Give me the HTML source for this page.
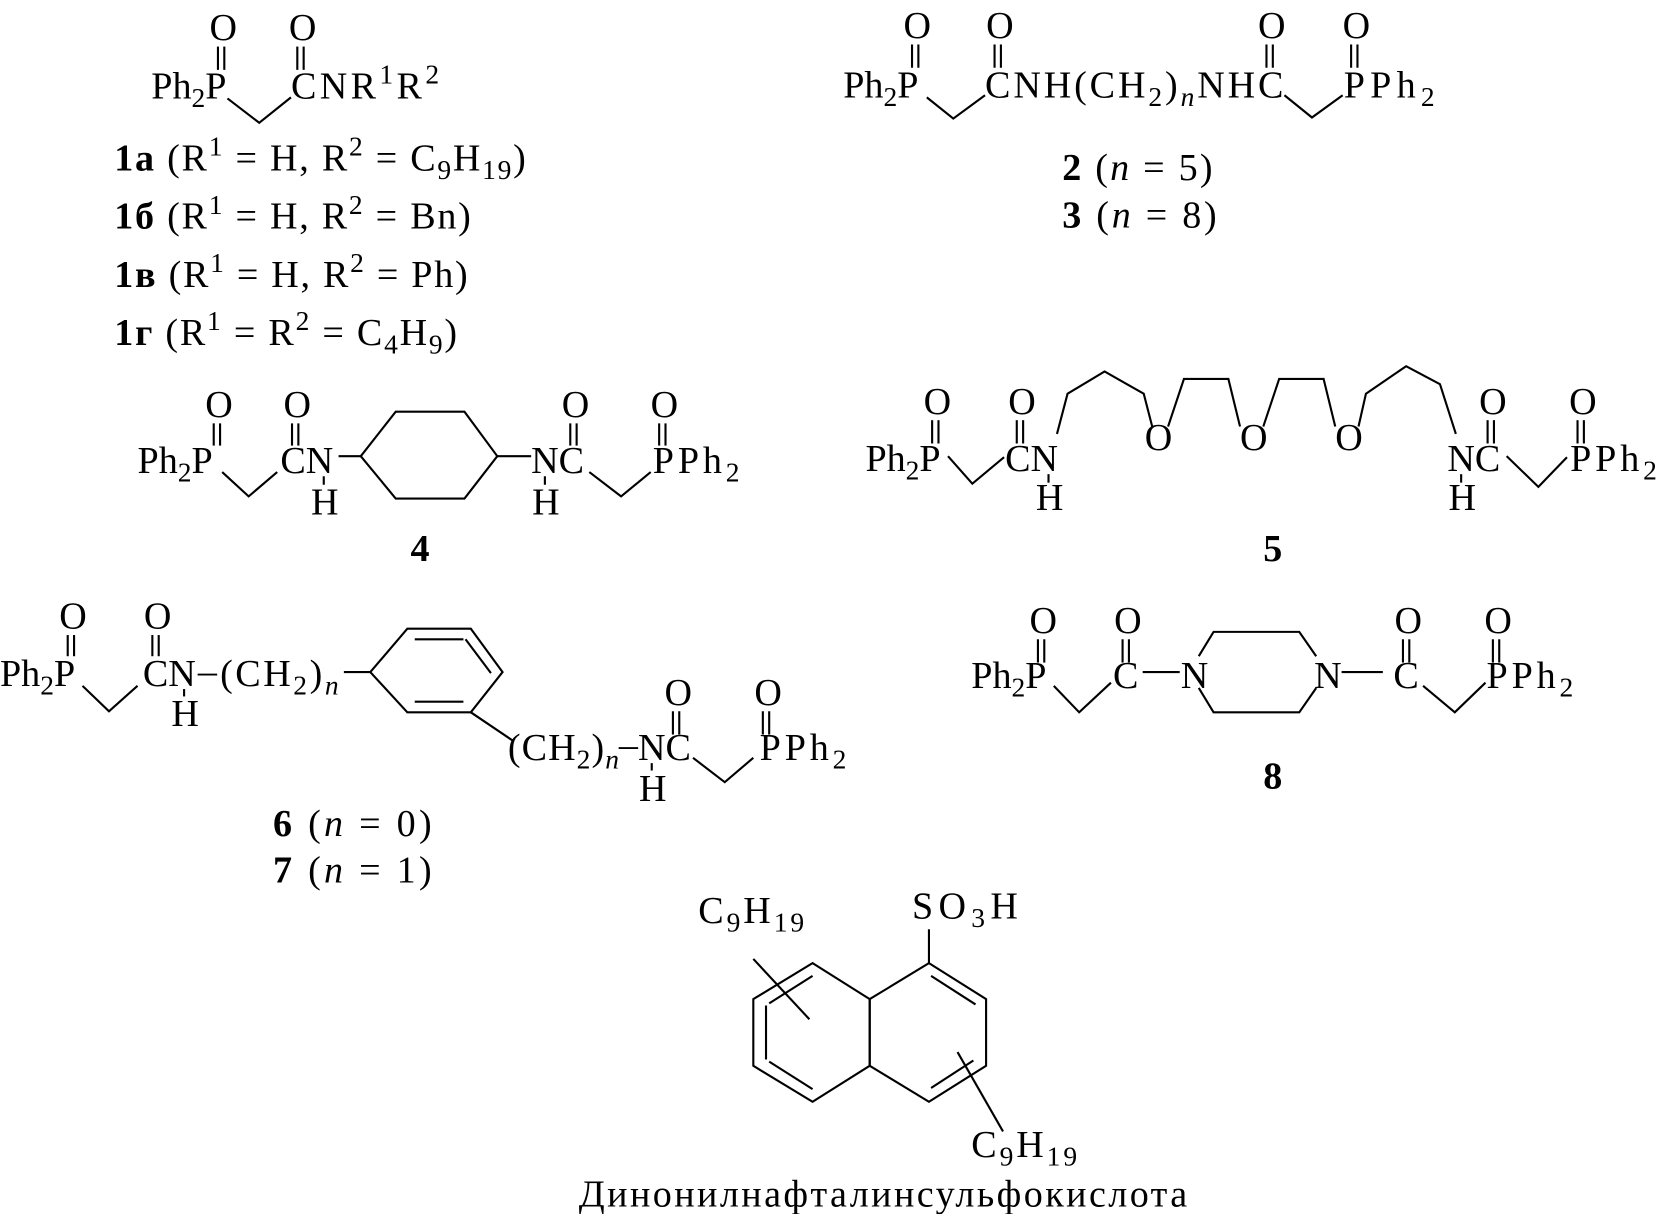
<!DOCTYPE html>
<html><head><meta charset="utf-8"><style>
html,body{margin:0;padding:0;background:#fff;}
svg{display:block;}
text{font-family:"Liberation Serif",serif;font-size:36px;fill:#000;}
.b{font-weight:bold;}
line,polyline,polygon{stroke:#000;stroke-width:2;fill:none;}
</style></head><body>
<svg width="1659" height="1214" viewBox="0 0 1568 1147" preserveAspectRatio="none" xmlns="http://www.w3.org/2000/svg">
<!-- Structure 1 -->
<text x="198" y="38">O</text><line x1="206" y1="44" x2="206" y2="66"/><line x1="212" y1="44" x2="212" y2="66"/>
<text x="273" y="38">O</text><line x1="281" y1="44" x2="281" y2="66"/><line x1="287" y1="44" x2="287" y2="66"/>
<text x="143" y="93">Ph<tspan dy="8" font-size="26">2</tspan><tspan dy="-8">P</tspan></text>
<polyline points="215,93 245,116 275,92"/>
<text x="275" y="93" textLength="140" lengthAdjust="spacing">CNR<tspan dy="-14" font-size="26">1</tspan><tspan dy="14">R</tspan><tspan dy="-14" font-size="26">2</tspan></text>
<text x="108" y="161" textLength="389" lengthAdjust="spacing"><tspan class="b">1a</tspan> (R<tspan dy="-14" font-size="26">1</tspan><tspan dy="14"> = H, R</tspan><tspan dy="-14" font-size="26">2</tspan><tspan dy="14"> = C</tspan><tspan dy="8" font-size="26">9</tspan><tspan dy="-8">H</tspan><tspan dy="8" font-size="26">19</tspan><tspan dy="-8">)</tspan></text>
<text x="108" y="216" textLength="337" lengthAdjust="spacing"><tspan class="b">1б</tspan> (R<tspan dy="-14" font-size="26">1</tspan><tspan dy="14"> = H, R</tspan><tspan dy="-14" font-size="26">2</tspan><tspan dy="14"> = Bn)</tspan></text>
<text x="108" y="271" textLength="334" lengthAdjust="spacing"><tspan class="b">1в</tspan> (R<tspan dy="-14" font-size="26">1</tspan><tspan dy="14"> = H, R</tspan><tspan dy="-14" font-size="26">2</tspan><tspan dy="14"> = Ph)</tspan></text>
<text x="108" y="326" textLength="324" lengthAdjust="spacing"><tspan class="b">1г</tspan> (R<tspan dy="-14" font-size="26">1</tspan><tspan dy="14"> = R</tspan><tspan dy="-14" font-size="26">2</tspan><tspan dy="14"> = C</tspan><tspan dy="8" font-size="26">4</tspan><tspan dy="-8">H</tspan><tspan dy="8" font-size="26">9</tspan><tspan dy="-8">)</tspan></text>

<!-- Structure 2/3 -->
<text x="854" y="36">O</text><line x1="862" y1="42" x2="862" y2="64"/><line x1="868" y1="42" x2="868" y2="64"/>
<text x="932" y="36">O</text><line x1="940" y1="42" x2="940" y2="64"/><line x1="946" y1="42" x2="946" y2="64"/>
<text x="1189" y="36">O</text><line x1="1197" y1="42" x2="1197" y2="64"/><line x1="1203" y1="42" x2="1203" y2="64"/>
<text x="1269" y="36">O</text><line x1="1277" y1="42" x2="1277" y2="64"/><line x1="1283" y1="42" x2="1283" y2="64"/>
<text x="797" y="92">Ph<tspan dy="8" font-size="26">2</tspan><tspan dy="-8">P</tspan></text>
<polyline points="876,92 901,112 931,90"/>
<text x="931" y="92" textLength="282" lengthAdjust="spacing">CNH(CH<tspan dy="8" font-size="26">2</tspan><tspan dy="-8">)</tspan><tspan dy="8" font-size="26" font-style="italic">n</tspan><tspan dy="-8">NHC</tspan></text>
<polyline points="1214,90 1240,111 1269,90"/>
<text x="1270" y="92" textLength="86" lengthAdjust="spacing">PPh<tspan dy="8" font-size="26">2</tspan></text>
<text x="1004" y="170" textLength="142" lengthAdjust="spacing"><tspan class="b">2</tspan> (<tspan font-style="italic">n</tspan> = 5)</text>
<text x="1004" y="215" textLength="146" lengthAdjust="spacing"><tspan class="b">3</tspan> (<tspan font-style="italic">n</tspan> = 8)</text>

<!-- Structure 4 -->
<text x="194" y="394">O</text><line x1="202" y1="400" x2="202" y2="421"/><line x1="208" y1="400" x2="208" y2="421"/>
<text x="268" y="394">O</text><line x1="276" y1="400" x2="276" y2="421"/><line x1="282" y1="400" x2="282" y2="421"/>
<text x="531" y="394">O</text><line x1="539" y1="400" x2="539" y2="421"/><line x1="545" y1="400" x2="545" y2="421"/>
<text x="615" y="394">O</text><line x1="623" y1="400" x2="623" y2="421"/><line x1="629" y1="400" x2="629" y2="421"/>
<text x="130" y="447">Ph<tspan dy="8" font-size="26">2</tspan><tspan dy="-8">P</tspan></text>
<polyline points="210,446 235,469 262,446"/>
<text x="265" y="447">CN</text>
<line x1="306" y1="450" x2="306" y2="458"/>
<text x="294" y="486">H</text>
<line x1="320" y1="431" x2="341" y2="431"/>
<polygon points="341,431 374,389 439,389 470,431 439,471 374,471"/>
<line x1="470" y1="431" x2="502" y2="431"/>
<text x="502" y="447">NC</text>
<line x1="515" y1="450" x2="515" y2="458"/>
<text x="503" y="486">H</text>
<polyline points="557,446 587,469 615,446"/>
<text x="617" y="447" textLength="82" lengthAdjust="spacing">PPh<tspan dy="8" font-size="26">2</tspan></text>
<text x="388" y="530" class="b">4</text>

<!-- Structure 5 -->
<text x="873" y="391">O</text><line x1="881" y1="397" x2="881" y2="419"/><line x1="887" y1="397" x2="887" y2="419"/>
<text x="953" y="391">O</text><line x1="961" y1="397" x2="961" y2="419"/><line x1="967" y1="397" x2="967" y2="419"/>
<text x="1398" y="391">O</text><line x1="1406" y1="397" x2="1406" y2="419"/><line x1="1412" y1="397" x2="1412" y2="419"/>
<text x="1483" y="391">O</text><line x1="1491" y1="397" x2="1491" y2="419"/><line x1="1497" y1="397" x2="1497" y2="419"/>
<text x="818" y="445">Ph<tspan dy="8" font-size="26">2</tspan><tspan dy="-8">P</tspan></text>
<polyline points="896,431 919,457 949,432"/>
<text x="950" y="445">CN</text>
<line x1="991" y1="448" x2="991" y2="456"/>
<text x="979" y="482">H</text>
<polyline points="999,410 1009,372 1044,351 1081,372 1089,403"/>
<text x="1082" y="425">O</text>
<polyline points="1104,403 1119,358 1161,358 1172,403"/>
<text x="1172" y="425">O</text>
<polyline points="1194,403 1209,358 1251,358 1262,403"/>
<text x="1262" y="425">O</text>
<polyline points="1284,403 1291,372 1329,346 1361,363 1376,410"/>
<text x="1368" y="445">NC</text>
<line x1="1381" y1="448" x2="1381" y2="456"/>
<text x="1369" y="482">H</text>
<polyline points="1424,431 1454,460 1481,432"/>
<text x="1484" y="445" textLength="82" lengthAdjust="spacing">PPh<tspan dy="8" font-size="26">2</tspan></text>
<text x="1194" y="530" class="b">5</text>

<!-- Structure 6/7 -->
<text x="56" y="594">O</text><line x1="64" y1="600" x2="64" y2="620"/><line x1="70" y1="600" x2="70" y2="620"/>
<text x="136" y="594">O</text><line x1="144" y1="600" x2="144" y2="620"/><line x1="150" y1="600" x2="150" y2="620"/>
<text x="0" y="648">Ph<tspan dy="8" font-size="26">2</tspan><tspan dy="-8">P</tspan></text>
<polyline points="78,648 103,672 130,648"/>
<text x="135" y="648">CN</text>
<line x1="174" y1="651" x2="174" y2="658"/>
<text x="162" y="686">H</text>
<text x="187" y="646">–</text>
<text x="208" y="648" textLength="112" lengthAdjust="spacing">(CH<tspan dy="8" font-size="26">2</tspan><tspan dy="-8">)</tspan><tspan dy="8" font-size="26" font-style="italic">n</tspan></text>
<line x1="325" y1="635" x2="350" y2="635"/>
<polygon points="350,635 385,594 445,594 475,635 445,673 385,673"/>
<line x1="392" y1="604" x2="438" y2="604"/>
<line x1="464" y1="636" x2="440" y2="604"/>
<line x1="392" y1="663" x2="438" y2="663"/>
<line x1="445" y1="673" x2="485" y2="700"/>
<text x="480" y="718" textLength="105" lengthAdjust="spacing">(CH<tspan dy="8" font-size="26">2</tspan><tspan dy="-8">)</tspan><tspan dy="8" font-size="26" font-style="italic">n</tspan></text>
<text x="585" y="715">–</text>
<text x="603" y="718">NC</text>
<line x1="616" y1="721" x2="616" y2="728"/>
<text x="604" y="757">H</text>
<text x="628" y="666">O</text><line x1="636" y1="672" x2="636" y2="694"/><line x1="642" y1="672" x2="642" y2="694"/>
<text x="713" y="666">O</text><line x1="721" y1="672" x2="721" y2="694"/><line x1="727" y1="672" x2="727" y2="694"/>
<polyline points="655,716 685,739 712,716"/>
<text x="718" y="718" textLength="82" lengthAdjust="spacing">PPh<tspan dy="8" font-size="26">2</tspan></text>
<text x="258" y="790" textLength="150" lengthAdjust="spacing"><tspan class="b">6</tspan> (<tspan font-style="italic">n</tspan> = 0)</text>
<text x="258" y="834" textLength="150" lengthAdjust="spacing"><tspan class="b">7</tspan> (<tspan font-style="italic">n</tspan> = 1)</text>

<!-- Structure 8 -->
<text x="973" y="598">O</text><line x1="981" y1="604" x2="981" y2="626"/><line x1="987" y1="604" x2="987" y2="626"/>
<text x="1053" y="598">O</text><line x1="1061" y1="604" x2="1061" y2="626"/><line x1="1067" y1="604" x2="1067" y2="626"/>
<text x="1318" y="598">O</text><line x1="1326" y1="604" x2="1326" y2="626"/><line x1="1332" y1="604" x2="1332" y2="626"/>
<text x="1403" y="598">O</text><line x1="1411" y1="604" x2="1411" y2="626"/><line x1="1417" y1="604" x2="1417" y2="626"/>
<text x="918" y="650">Ph<tspan dy="8" font-size="26">2</tspan><tspan dy="-8">P</tspan></text>
<polyline points="996,648 1020,673 1050,645"/>
<text x="1052" y="650">C</text>
<line x1="1080" y1="635" x2="1115" y2="635"/>
<text x="1116" y="650">N</text>
<polyline points="1133,620 1147,597 1228,597 1244,620"/>
<polyline points="1133,650 1147,673 1228,673 1244,650"/>
<text x="1242" y="650">N</text>
<line x1="1268" y1="635" x2="1307" y2="635"/>
<text x="1317" y="650">C</text>
<polyline points="1345,648 1375,673 1404,645"/>
<text x="1405" y="650" textLength="82" lengthAdjust="spacing">PPh<tspan dy="8" font-size="26">2</tspan></text>
<text x="1194" y="745" class="b">8</text>

<!-- Naphthalene -->
<text x="660" y="872" textLength="100" lengthAdjust="spacing">C<tspan dy="8" font-size="26">9</tspan><tspan dy="-8">H</tspan><tspan dy="8" font-size="26">19</tspan></text>
<text x="862" y="868" textLength="100" lengthAdjust="spacing">SO<tspan dy="8" font-size="26">3</tspan><tspan dy="-8">H</tspan></text>
<line x1="878" y1="878" x2="878" y2="910"/>
<polygon points="878,910 932,944 932,1007 878,1041 822,1007 822,944"/>
<polygon points="822,944 768,910 712,944 712,1007 768,1041 822,1007"/>
<line x1="880" y1="922" x2="922" y2="949"/>
<line x1="920" y1="1002" x2="880" y2="1028"/>
<line x1="724" y1="950" x2="724" y2="1001"/>
<line x1="768" y1="922" x2="727" y2="948"/>
<line x1="727" y1="1003" x2="768" y2="1029"/>
<line x1="712" y1="906" x2="765" y2="963"/>
<line x1="905" y1="994" x2="948" y2="1069"/>
<text x="918" y="1093" textLength="100" lengthAdjust="spacing">C<tspan dy="8" font-size="26">9</tspan><tspan dy="-8">H</tspan><tspan dy="8" font-size="26">19</tspan></text>
<text x="547" y="1140" textLength="575" lengthAdjust="spacing">Динонилнафталинсульфокислота</text>
</svg>
</body></html>
